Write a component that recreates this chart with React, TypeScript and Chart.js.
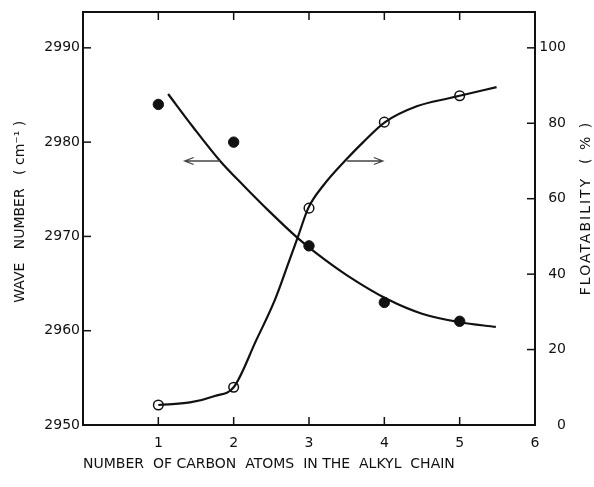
import React, { useEffect, useRef } from "react";
import { Chart, registerables } from "chart.js";

Chart.register(...registerables);

// Measured points
const carbonAtoms = [1, 2, 3, 4, 5];
const waveNumber = [2984, 2980, 2969, 2963, 2961];
const floatability = [5.3, 10, 57.5, 80.3, 87.3];

// Fitted curves
const waveCurveX = [1.13, 1.46, 1.82, 2.13, 2.48, 2.84, 3.1, 3.5, 4.05, 4.5, 5.0, 5.48];
const waveCurveY = [2985.1, 2981.6, 2978.0, 2975.4, 2972.6, 2969.9, 2968.2, 2965.9, 2963.3, 2961.8, 2960.9, 2960.4];
const floatCurveX = [1, 1.42, 1.75, 2, 2.3, 2.55, 2.73, 2.86, 2.99, 3.19, 3.5, 3.72, 4.01, 4.43, 4.87, 5.0, 5.49];
const floatCurveY = [5.3, 6.0, 7.7, 10.0, 22.5, 33.3, 43.1, 50.3, 57.5, 63.5, 70.5, 75.0, 80.3, 84.5, 86.7, 87.3, 89.6];

// Tick labels
const xTicks = [1, 2, 3, 4, 5, 6];
const waveTicks = [2950, 2960, 2970, 2980, 2990];
const floatTicks = [0, 20, 40, 60, 80, 100];

// Direction arrows: [xFrom, xTo, waveNumberLevel]
const leftArrow = [1.82, 1.35, 2978];
const rightArrow = [3.5, 3.98, 2978];

const xTitle = "NUMBER  OF CARBON  ATOMS  IN THE  ALKYL  CHAIN";
const leftTitle = "   WAVE   NUMBER   ( cm\u207B\u00B9 )";
const rightTitle = "FLOATABILITY  ( % )";

const TICK_FONT = { family: "'DejaVu Sans', sans-serif", size: 14 };
const TITLE_FONT = { family: "'DejaVu Sans', sans-serif", size: 14 };

const framePlugin = {
  id: "frameTicks",
  beforeDatasetsDraw(chart: any) {
    const { ctx, chartArea: a, scales } = chart;
    ctx.save();
    ctx.strokeStyle = "#111";
    ctx.lineWidth = 2;
    ctx.strokeRect(a.left, a.top, a.right - a.left, a.bottom - a.top);
    ctx.lineWidth = 1.5;
    const len = 8;
    const xs = scales.x;
    xs.ticks.forEach((t: any) => {
      if (t.value <= xs.min || t.value >= xs.max) return;
      const p = xs.getPixelForValue(t.value);
      ctx.beginPath();
      ctx.moveTo(p, a.bottom);
      ctx.lineTo(p, a.bottom - len);
      ctx.moveTo(p, a.top);
      ctx.lineTo(p, a.top + len);
      ctx.stroke();
    });
    const yl = scales.y;
    yl.ticks.forEach((t: any) => {
      if (t.value <= yl.min || t.value >= yl.max) return;
      const p = yl.getPixelForValue(t.value);
      ctx.beginPath();
      ctx.moveTo(a.left, p);
      ctx.lineTo(a.left + len, p);
      ctx.stroke();
    });
    const yr = scales.y2;
    yr.ticks.forEach((t: any) => {
      if (t.value <= yr.min || t.value >= yr.max) return;
      const p = yr.getPixelForValue(t.value);
      ctx.beginPath();
      ctx.moveTo(a.right, p);
      ctx.lineTo(a.right - len, p);
      ctx.stroke();
    });
    ctx.restore();
  },
  afterDatasetsDraw(chart: any) {
    const { ctx, scales } = chart;
    const drawArrow = (arr: number[]) => {
      const x1 = scales.x.getPixelForValue(arr[0]);
      const x2 = scales.x.getPixelForValue(arr[1]);
      const y = scales.y.getPixelForValue(arr[2]);
      const dir = Math.sign(x2 - x1);
      ctx.save();
      ctx.strokeStyle = "#444";
      ctx.lineWidth = 1.3;
      ctx.beginPath();
      ctx.moveTo(x1, y);
      ctx.lineTo(x2, y);
      ctx.moveTo(x2 - dir * 9, y - 3.5);
      ctx.lineTo(x2, y);
      ctx.lineTo(x2 - dir * 9, y + 3.5);
      ctx.stroke();
      ctx.restore();
    };
    drawArrow(leftArrow);
    drawArrow(rightArrow);
  },
  afterDraw(chart: any) {
    const { ctx } = chart;
    ctx.save();
    ctx.translate(586, 208);
    ctx.rotate(-Math.PI / 2);
    ctx.font = `${TITLE_FONT.size}px ${TITLE_FONT.family}`;
    try {
      (ctx as any).letterSpacing = "2px";
    } catch (e) {}
    ctx.fillStyle = "#111";
    ctx.textAlign = "center";
    ctx.textBaseline = "middle";
    ctx.fillText(rightTitle, 0, 0);
    ctx.restore();
  },
};

const plainLabel = (v: any) => String(v);

export default function App() {
  const canvasRef = useRef<HTMLCanvasElement | null>(null);

  useEffect(() => {
    document.body.style.margin = "0";
    const canvas = canvasRef.current;
    if (!canvas) return;
    const chart = new Chart(canvas, {
      type: "line",
      data: {
        datasets: [
          {
            label: "wave number curve",
            data: waveCurveX.map((x, i) => ({ x, y: waveCurveY[i] })),
            yAxisID: "y",
            borderColor: "#111",
            borderWidth: 2.2,
            pointRadius: 0,
            cubicInterpolationMode: "monotone",
            fill: false,
          },
          {
            label: "floatability curve",
            data: floatCurveX.map((x, i) => ({ x, y: floatCurveY[i] })),
            yAxisID: "y2",
            borderColor: "#111",
            borderWidth: 2.2,
            pointRadius: 0,
            cubicInterpolationMode: "monotone",
            fill: false,
          },
          {
            label: "wave number",
            data: carbonAtoms.map((x, i) => ({ x, y: waveNumber[i] })),
            yAxisID: "y",
            showLine: false,
            pointRadius: 5.2,
            pointBackgroundColor: "#111",
            pointBorderColor: "#111",
            pointBorderWidth: 1,
          },
          {
            label: "floatability",
            data: carbonAtoms.map((x, i) => ({ x, y: floatability[i] })),
            yAxisID: "y2",
            showLine: false,
            pointRadius: 4.8,
            pointBackgroundColor: "#fff",
            pointBorderColor: "#111",
            pointBorderWidth: 1.5,
          },
        ],
      },
      options: {
        responsive: true,
        maintainAspectRatio: false,
        animation: false,
        layout: { padding: { top: 12, left: 0, right: 28, bottom: 0 } },
        plugins: { legend: { display: false }, tooltip: { enabled: false } },
        scales: {
          x: {
            type: "linear",
            position: "bottom",
            min: 0,
            max: 6,
            afterBuildTicks: (s: any) => {
              s.ticks = xTicks.map((v) => ({ value: v }));
            },
            afterFit: (s: any) => {
              s.height = 62;
            },
            grid: { display: false, drawTicks: false },
            border: { display: false },
            ticks: { font: TICK_FONT, color: "#111", padding: 10, maxRotation: 0, callback: plainLabel },
            title: {
              display: true,
              text: xTitle,
              align: "start",
              font: TITLE_FONT,
              color: "#111",
              padding: { top: 0, bottom: 14 },
            },
          },
          y: {
            type: "linear",
            position: "left",
            min: 2950,
            max: 2993.8,
            afterBuildTicks: (s: any) => {
              s.ticks = waveTicks.map((v) => ({ value: v }));
            },
            afterFit: (s: any) => {
              s.width = 83;
            },
            grid: { display: false, drawTicks: false },
            border: { display: false },
            ticks: { font: TICK_FONT, color: "#111", padding: 3, callback: plainLabel },
            title: {
              display: true,
              text: leftTitle,
              font: TITLE_FONT,
              color: "#111",
              padding: { top: 12, bottom: 0 },
            },
          },
          y2: {
            type: "linear",
            position: "right",
            min: 0,
            max: 109.5,
            afterBuildTicks: (s: any) => {
              s.ticks = floatTicks.map((v) => ({ value: v }));
            },
            afterFit: (s: any) => {
              s.width = 31;
            },
            grid: { display: false, drawTicks: false },
            border: { display: false },
            ticks: { font: TICK_FONT, color: "#111", padding: 3, crossAlign: "far", callback: plainLabel },
          },
        },
      },
      plugins: [framePlugin],
    } as any);
    return () => chart.destroy();
  }, []);

  return (
    <div style={{ position: "relative", width: 594, height: 487 }}>
      <canvas ref={canvasRef} />
    </div>
  );
}
